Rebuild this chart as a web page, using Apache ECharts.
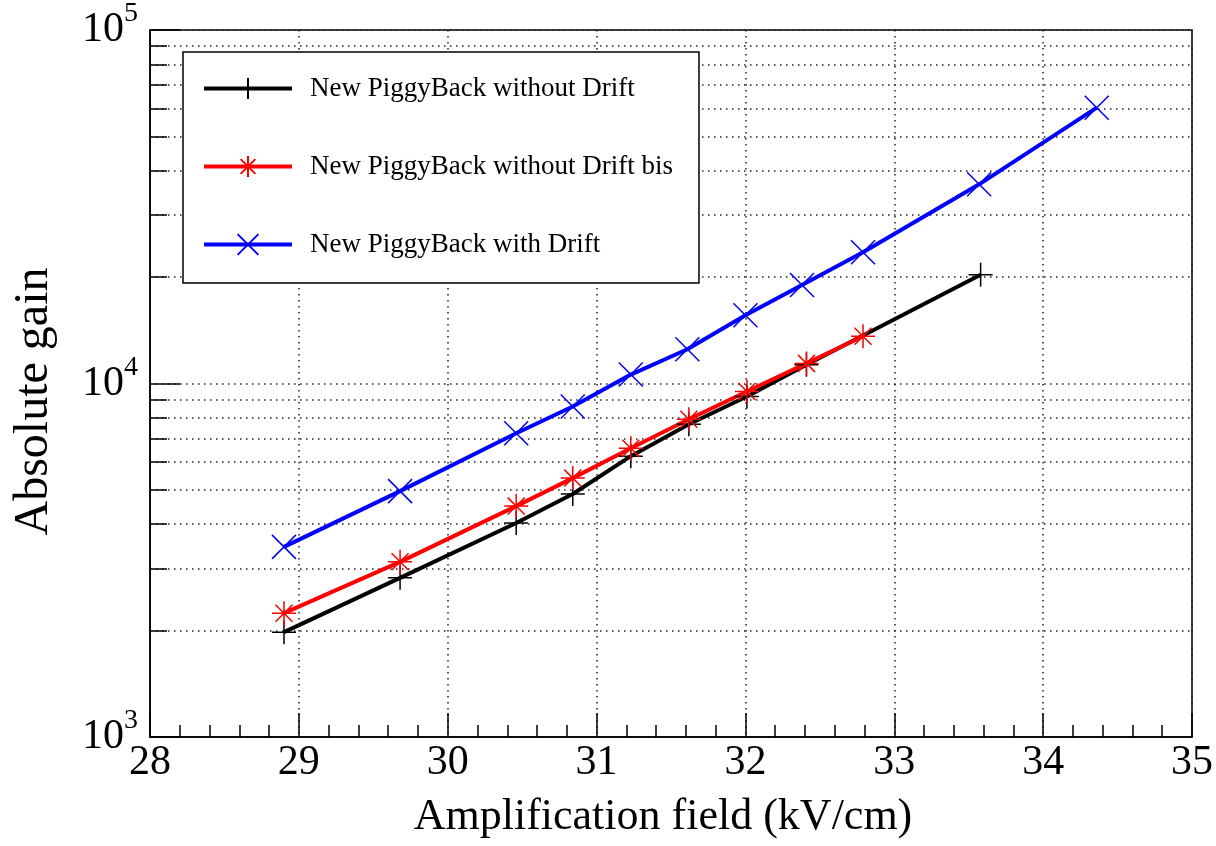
<!DOCTYPE html>
<html>
<head>
<meta charset="utf-8">
<script src="https://cdn.jsdelivr.net/npm/echarts@6/dist/echarts.min.js"></script>
<style>
  html, body { margin: 0; background: #fff; }
  #chart { width: 1216px; height: 846px; }
</style>
</head>
<body>
<div id="chart"></div>
<script>
const seriesNames = ['New PiggyBack without Drift', 'New PiggyBack without Drift bis', 'New PiggyBack with Drift']

const fieldNoDrift = [28.9, 29.68, 30.46, 30.84, 31.23, 31.62, 32.01, 32.41, 33.58]
const gainNoDrift = [1980, 2820, 4030, 4870, 6230, 7670, 9190, 11300, 20300]

const fieldNoDriftBis = [28.9, 29.68, 30.46, 30.84, 31.23, 31.62, 32.01, 32.41, 32.79]
const gainNoDriftBis = [2240, 3130, 4500, 5400, 6560, 7920, 9490, 11400, 13600]

const fieldDrift = [28.9, 29.68, 30.46, 30.84, 31.23, 31.61, 32.0, 32.38, 32.79, 33.57, 34.36]
const gainDrift = [3450, 4960, 7230, 8610, 10600, 12500, 15600, 19000, 23500, 36600, 60300]

const FONT = 'Liberation Serif'

// ROOT-like markers: +, * and x
const markerPlus = 'path://M0,-10L0,10M-10,0L10,0'
const markerStar = 'path://M0,-10L0,10M-10,0L10,0M-7.07,-7.07L7.07,7.07M-7.07,7.07L7.07,-7.07'
const markerCross = 'path://M-10,-10L10,10M-10,10L10,-10'

function pairs(xs, ys) {
  return xs.map((x, i) => [x, ys[i]])
}

function makeSeries(name, xs, ys, color, symbol) {
  return {
    name: name,
    type: 'line',
    data: pairs(xs, ys),
    symbol: symbol,
    symbolSize: 24,
    showAllSymbol: true,
    lineStyle: { color: color, width: 4 },
    itemStyle: { color: color, borderColor: color, borderWidth: 1.5 },
    emphasis: { disabled: true }
  }
}

const dotted = { color: '#222', width: 1.5, type: [1.5, 4.5] }

const chart = echarts.init(document.getElementById('chart'))

const option = {
  animation: false,
  backgroundColor: '#fff',
  grid: {
    left: 150,
    right: 24,
    top: 28,
    bottom: 109,
    show: true,
    borderColor: '#000',
    borderWidth: 1.5
  },
  legend: {
    orient: 'vertical',
    left: 183,
    top: 52,
    padding: [23, 26, 25, 19],
    itemWidth: 88,
    itemHeight: 26,
    itemGap: 51,
    borderColor: '#000',
    borderWidth: 1.5,
    backgroundColor: '#fff',
    lineStyle: { width: 4 },
    textStyle: { fontFamily: FONT, fontSize: 27, color: '#000', padding: [0, 0, 0, 13] },
    data: seriesNames
  },
  xAxis: {
    type: 'value',
    min: 28,
    max: 35,
    interval: 1,
    name: 'Amplification field (kV/cm)',
    nameLocation: 'middle',
    nameGap: 58,
    nameTextStyle: { fontFamily: FONT, fontSize: 44, color: '#000', padding: [0, 16, 0, 0] },
    axisLine: { lineStyle: { color: '#000', width: 1.5 } },
    axisTick: { inside: true, length: 24, lineStyle: { color: '#000', width: 1.5 } },
    minorTick: { show: true, splitNumber: 5, length: 12, lineStyle: { color: '#000', width: 1.5 } },
    axisLabel: { fontFamily: FONT, fontSize: 42, color: '#000', margin: 5, lineHeight: 42 },
    splitLine: { show: true, lineStyle: dotted }
  },
  yAxis: {
    type: 'log',
    logBase: 10,
    min: 1000,
    max: 100000,
    name: 'Absolute gain',
    nameLocation: 'middle',
    nameGap: 92,
    nameTextStyle: { fontFamily: FONT, fontSize: 48, color: '#000', padding: [0, 36, 0, 0] },
    axisLine: { lineStyle: { color: '#000', width: 1.5 } },
    axisTick: { inside: true, length: 30, lineStyle: { color: '#000', width: 1.5 } },
    minorTick: { show: true, splitNumber: 9, length: 17, lineStyle: { color: '#000', width: 1.5 } },
    minorSplitLine: { show: true, lineStyle: dotted },
    splitLine: { show: true, lineStyle: dotted },
    axisLabel: {
      margin: 12,
      formatter: (v) => '{b|10}{s|' + Math.round(Math.log10(v)) + '}',
      rich: {
        b: { fontFamily: FONT, fontSize: 42, lineHeight: 60, color: '#000' },
        s: { fontFamily: FONT, fontSize: 28, lineHeight: 28, color: '#000', verticalAlign: 'top' }
      }
    }
  },
  series: [
    makeSeries(seriesNames[0], fieldNoDrift, gainNoDrift, '#000000', markerPlus),
    makeSeries(seriesNames[1], fieldNoDriftBis, gainNoDriftBis, '#ff0000', markerStar),
    makeSeries(seriesNames[2], fieldDrift, gainDrift, '#0000ff', markerCross)
  ]
}

chart.setOption(option)
</script>
</body>
</html>
